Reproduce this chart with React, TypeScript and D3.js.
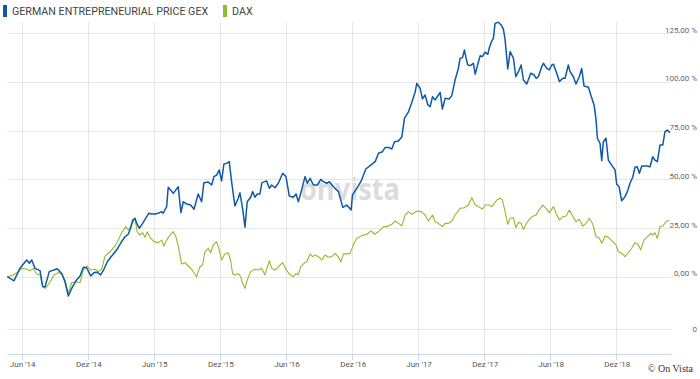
import React from "react";
import * as d3 from "d3";

// ---- data (decimal year, % change) ----
const gexDates = [
  2014.305, 2014.356, 2014.401, 2014.452, 2014.472, 2014.49, 2014.515, 2014.553, 2014.573, 2014.591,
  2014.623, 2014.684, 2014.717, 2014.742, 2014.767, 2014.793, 2014.825, 2014.856, 2014.881, 2014.906,
  2014.937, 2014.962, 2014.987, 2015.012, 2015.037, 2015.062, 2015.096, 2015.133, 2015.171, 2015.196,
  2015.221, 2015.239, 2015.255, 2015.272, 2015.285, 2015.305, 2015.33, 2015.361, 2015.378, 2015.398,
  2015.423, 2015.448, 2015.474, 2015.486, 2015.512, 2015.524, 2015.542, 2015.562, 2015.6, 2015.62,
  2015.638, 2015.663, 2015.694, 2015.719, 2015.751, 2015.777, 2015.794, 2015.827, 2015.853, 2015.87,
  2015.89, 2015.91, 2015.928, 2015.946, 2015.966, 2015.986, 2016.004, 2016.029, 2016.054, 2016.067,
  2016.087, 2016.105, 2016.122, 2016.148, 2016.163, 2016.18, 2016.198, 2016.218, 2016.233, 2016.269,
  2016.289, 2016.307, 2016.332, 2016.357, 2016.39, 2016.415, 2016.44, 2016.47, 2016.491, 2016.508,
  2016.526, 2016.559, 2016.576, 2016.597, 2016.622, 2016.652, 2016.678, 2016.697, 2016.723, 2016.743,
  2016.773, 2016.811, 2016.844, 2016.874, 2016.907, 2016.917, 2016.95, 2016.983, 2017.018, 2017.058,
  2017.089, 2017.114, 2017.144, 2017.164, 2017.194, 2017.215, 2017.235, 2017.265, 2017.291, 2017.311,
  2017.341, 2017.367, 2017.392, 2017.404, 2017.429, 2017.447, 2017.467, 2017.488, 2017.505, 2017.523,
  2017.543, 2017.568, 2017.581, 2017.598, 2017.619, 2017.649, 2017.669, 2017.694, 2017.719, 2017.732,
  2017.75, 2017.765, 2017.775, 2017.79, 2017.808, 2017.833, 2017.846, 2017.871, 2017.884, 2017.901,
  2017.921, 2017.942, 2017.952, 2017.972, 2017.984, 2017.997, 2018.022, 2018.043, 2018.06, 2018.073,
  2018.093, 2018.111, 2018.136, 2018.154, 2018.174, 2018.194, 2018.212, 2018.237, 2018.267, 2018.292,
  2018.308, 2018.325, 2018.351, 2018.363, 2018.389, 2018.408, 2018.426, 2018.439, 2018.464, 2018.484,
  2018.51, 2018.527, 2018.552, 2018.565, 2018.59, 2018.61, 2018.635, 2018.653, 2018.671, 2018.704,
  2018.722, 2018.747, 2018.762, 2018.772, 2018.792, 2018.805, 2018.817, 2018.837, 2018.855, 2018.888,
  2018.906, 2018.918, 2018.936, 2018.956, 2018.981, 2018.999, 2019.019, 2019.04, 2019.057, 2019.074,
  2019.09, 2019.108, 2019.146, 2019.171, 2019.191, 2019.208, 2019.226, 2019.246, 2019.267, 2019.284,
  2019.301, 2019.322,
];
const gexValues = [
  0.0, -2.1, 4.3, 8.6, 6.9, 8.6, 4.3, 3.1, -5.1, -5.1,
  2.6, 4.1, 1.7, -2.6, -9.9, -6.0, -2.1, 0.4, 4.8, 4.6,
  0.4, 2.1, 2.3, 0.9, 3.8, 7.7, 10.6, 13.7, 18.0, 20.5,
  21.8, 24.9, 29.1, 30.0, 27.4, 24.9, 27.4, 30.8, 32.6, 32.2,
  32.2, 32.6, 33.4, 32.6, 36.0, 45.9, 44.5, 42.8, 46.2, 32.9,
  38.5, 37.3, 36.8, 34.6, 42.5, 38.5, 48.3, 48.6, 47.1, 51.4,
  52.2, 54.8, 49.2, 57.9, 58.2, 59.1, 48.8, 36.3, 40.3, 43.1,
  35.1, 25.4, 38.5, 40.8, 43.7, 40.8, 42.5, 42.5, 48.3, 49.2,
  45.4, 47.1, 45.7, 48.0, 53.1, 51.4, 41.4, 40.8, 42.5, 38.5,
  42.8, 51.4, 48.0, 50.5, 47.1, 47.1, 50.0, 48.8, 48.0, 48.8,
  46.2, 43.7, 35.6, 36.8, 34.3, 42.0, 45.4, 49.2, 55.3, 57.4,
  59.1, 63.4, 64.2, 66.3, 66.3, 65.6, 69.3, 69.7, 71.9, 81.4,
  84.7, 89.6, 95.0, 99.3, 96.8, 91.3, 93.3, 88.2, 87.3, 92.4,
  90.8, 93.3, 94.7, 86.1, 91.6, 91.3, 93.0, 101.0, 107.0, 112.2,
  112.5, 116.4, 113.0, 108.7, 108.4, 109.6, 104.0, 110.4, 113.5, 113.0,
  115.3, 114.2, 117.3, 121.1, 122.4, 130.1, 130.7, 129.3, 127.2, 121.6,
  106.7, 115.6, 112.2, 102.7, 105.3, 108.7, 101.0, 99.0, 104.5, 103.6,
  101.9, 102.7, 107.9, 109.6, 107.0, 106.2, 108.7, 109.1, 104.5, 100.2,
  101.9, 101.9, 108.7, 105.3, 102.7, 99.0, 102.7, 107.0, 97.9, 97.3,
  93.3, 88.2, 80.5, 71.1, 68.5, 59.6, 69.3, 71.1, 59.9, 56.5,
  54.8, 47.6, 46.2, 39.0, 41.1, 43.7, 48.0, 51.1, 56.2, 56.5,
  53.1, 56.9, 56.9, 56.5, 61.6, 59.9, 59.1, 67.6, 67.6, 74.5,
  75.3, 74.0,
];

const daxDates = [
  2014.305, 2014.351, 2014.389, 2014.414, 2014.452, 2014.477, 2014.502, 2014.523, 2014.553, 2014.573,
  2014.591, 2014.623, 2014.659, 2014.691, 2014.717, 2014.742, 2014.767, 2014.793, 2014.831, 2014.856,
  2014.881, 2014.911, 2014.937, 2014.969, 2014.994, 2015.02, 2015.045, 2015.083, 2015.121, 2015.146,
  2015.171, 2015.204, 2015.221, 2015.239, 2015.255, 2015.272, 2015.289, 2015.31, 2015.33, 2015.348,
  2015.365, 2015.386, 2015.416, 2015.448, 2015.474, 2015.491, 2015.512, 2015.537, 2015.562, 2015.582,
  2015.6, 2015.625, 2015.65, 2015.675, 2015.701, 2015.739, 2015.764, 2015.784, 2015.802, 2015.827,
  2015.845, 2015.865, 2015.89, 2015.91, 2015.928, 2015.953, 2015.978, 2015.996, 2016.012, 2016.029,
  2016.054, 2016.072, 2016.087, 2016.105, 2016.122, 2016.148, 2016.18, 2016.205, 2016.231, 2016.256,
  2016.289, 2016.307, 2016.332, 2016.357, 2016.39, 2016.415, 2016.44, 2016.47, 2016.491, 2016.508,
  2016.526, 2016.551, 2016.572, 2016.597, 2016.617, 2016.635, 2016.66, 2016.685, 2016.71, 2016.735,
  2016.761, 2016.786, 2016.811, 2016.829, 2016.849, 2016.874, 2016.9, 2016.925, 2016.95, 2016.988,
  2017.026, 2017.058, 2017.083, 2017.114, 2017.152, 2017.177, 2017.215, 2017.24, 2017.265, 2017.291,
  2017.316, 2017.341, 2017.367, 2017.404, 2017.437, 2017.467, 2017.492, 2017.523, 2017.543, 2017.568,
  2017.598, 2017.619, 2017.644, 2017.669, 2017.694, 2017.732, 2017.765, 2017.795, 2017.821, 2017.846,
  2017.871, 2017.901, 2017.921, 2017.952, 2017.972, 2017.992, 2018.01, 2018.035, 2018.052, 2018.073,
  2018.093, 2018.111, 2018.136, 2018.154, 2018.174, 2018.194, 2018.212, 2018.242, 2018.275, 2018.308,
  2018.333, 2018.358, 2018.383, 2018.408, 2018.439, 2018.459, 2018.484, 2018.51, 2018.535, 2018.56,
  2018.585, 2018.61, 2018.635, 2018.661, 2018.686, 2018.711, 2018.737, 2018.762, 2018.787, 2018.805,
  2018.83, 2018.855, 2018.888, 2018.913, 2018.931, 2018.956, 2018.981, 2019.006, 2019.032, 2019.057,
  2019.082, 2019.1, 2019.125, 2019.15, 2019.176, 2019.191, 2019.208, 2019.226, 2019.246, 2019.267,
  2019.292, 2019.317,
];
const daxValues = [
  0.0, 0.9, 2.6, 4.3, 3.8, 3.1, 4.3, 1.7, 0.9, -4.8,
  -6.0, -3.4, 0.9, 2.1, 1.4, -1.7, -8.5, -3.1, -2.6, -3.1,
  3.4, 5.5, 3.4, 3.8, 2.6, 3.8, 10.6, 12.8, 15.8, 18.8,
  22.6, 25.7, 24.0, 25.7, 27.7, 30.0, 23.1, 21.4, 22.6, 20.2,
  23.1, 20.2, 18.0, 17.5, 18.8, 15.8, 18.8, 21.4, 23.1, 20.5,
  15.8, 6.5, 7.2, 5.5, 3.8, 0.0, 5.1, 6.0, 12.8, 14.6,
  12.3, 16.3, 18.0, 13.7, 8.6, 11.7, 12.3, 8.6, 1.4, 0.9,
  1.7, 0.0, -3.4, -6.0, -1.7, 2.6, 3.8, 3.4, 4.3, 0.9,
  8.2, 4.3, 3.4, 5.1, 7.2, 3.8, 1.4, 0.0, 1.7, 0.9,
  5.1, 6.9, 7.7, 11.7, 10.3, 11.1, 10.3, 8.6, 11.1, 10.0,
  10.3, 12.0, 10.0, 7.7, 11.7, 11.7, 12.0, 16.6, 19.7, 21.1,
  21.8, 23.5, 21.8, 23.1, 25.7, 25.7, 26.9, 28.6, 27.4, 26.2,
  31.7, 33.4, 32.0, 33.7, 33.4, 31.7, 28.6, 31.7, 28.2, 27.4,
  25.7, 27.4, 27.4, 28.6, 31.7, 35.1, 35.4, 36.8, 40.6, 36.8,
  36.0, 34.8, 36.8, 36.8, 36.0, 37.7, 39.4, 40.3, 39.4, 33.4,
  26.9, 30.0, 30.3, 25.2, 27.9, 27.4, 24.3, 28.2, 30.8, 31.7,
  34.6, 36.8, 35.1, 32.9, 36.0, 32.6, 29.1, 30.8, 31.2, 34.3,
  31.2, 28.2, 29.5, 26.0, 27.4, 30.0, 27.1, 20.5, 19.7, 17.2,
  20.9, 20.2, 18.0, 16.3, 12.8, 12.0, 10.3, 12.3, 14.6, 17.5,
  16.3, 13.7, 18.8, 20.5, 22.3, 21.4, 22.6, 19.7, 25.7, 26.0,
  28.2, 29.1,
];

const seriesNames = ["GERMAN ENTREPRENEURIAL PRICE GEX", "DAX"];
const seriesColors = ["#0f5aa6", "#8fbc2c"];

const xTickDates = [
  "2014-06-01", "2014-12-01", "2015-06-01", "2015-12-01", "2016-06-01",
  "2016-12-01", "2017-06-01", "2017-12-01", "2018-06-01", "2018-12-01",
];
const xTickLabels = [
  "Jun '14", "Dez '14", "Jun '15", "Dez '15", "Jun '16",
  "Dez '16", "Jun '17", "Dez '17", "Jun '18", "Dez '18",
];
const yTicks = [0, 25, 50, 75, 100, 125];
const yTickLabels = ["0,00 %", "25,00 %", "50,00 %", "75,00 %", "100,00 %", "125,00 %"];

function decYear(y: number): Date {
  const yr = Math.floor(y);
  const s = Date.UTC(yr, 0, 1);
  const e = Date.UTC(yr + 1, 0, 1);
  return new Date(s + (y - yr) * (e - s));
}

const W = 700;
const H = 379;
const left = 7.3;
const right = 670;
const plotTop = 22;
const axisY = 354;
const bottomLineY = 329;
const gridRight = 671;

export default function App() {
  const x = d3
    .scaleUtc()
    .domain([decYear(gexDates[0]), decYear(gexDates[gexDates.length - 1])])
    .range([left, right]);
  const y = d3.scaleLinear().domain([0, 125]).range([276.7, 33.3]);

  const gex = gexDates.map((d, i) => ({ d: decYear(d), v: gexValues[i] }));
  const dax = daxDates.map((d, i) => ({ d: decYear(d), v: daxValues[i] }));
  const line = d3
    .line<{ d: Date; v: number }>()
    .x((p) => x(p.d))
    .y((p) => y(p.v));

  const tickXs = xTickDates.map((s) => x(new Date(s + "T00:00:00Z")));
  const font = "Roboto, 'Open Sans', sans-serif";

  return (
    <svg
      width={W}
      height={H}
      style={{ position: "absolute", left: 0, top: 0, background: "#fff" }}
    >
      <rect x={0} y={0} width={W} height={H} fill="#fff" />
      {/* watermark */}
      <text
        x={350}
        y={200}
        textAnchor="middle"
        fontFamily="'Open Sans', sans-serif"
        fontWeight={700}
        fontSize={31}
        fill="#dcdcdc"
        textLength={100}
        lengthAdjust="spacingAndGlyphs"
      >
        onvista
      </text>
      {/* horizontal grid */}
      {yTicks.map((t) => (
        <line
          key={"h" + t}
          x1={left}
          x2={gridRight}
          y1={Math.round(y(t)) + 0.5}
          y2={Math.round(y(t)) + 0.5}
          stroke="#e6e6e6"
        />
      ))}
      <line x1={left} x2={gridRight} y1={bottomLineY + 0.5} y2={bottomLineY + 0.5} stroke="#e6e6e6" />
      {/* vertical grid */}
      {tickXs.map((tx, i) => (
        <line
          key={"v" + i}
          x1={Math.round(tx) + 0.5}
          x2={Math.round(tx) + 0.5}
          y1={plotTop}
          y2={axisY}
          stroke="#e6e6e6"
        />
      ))}
      {/* x axis */}
      <line x1={left} x2={gridRight} y1={axisY + 0.5} y2={axisY + 0.5} stroke="#ccd6eb" />
      {tickXs.map((tx, i) => (
        <line
          key={"t" + i}
          x1={Math.round(tx) + 0.5}
          x2={Math.round(tx) + 0.5}
          y1={axisY}
          y2={axisY + 6}
          stroke="#ccd6eb"
        />
      ))}
      {tickXs.map((tx, i) => (
        <text
          key={"xl" + i}
          x={tx + 1}
          y={367}
          textAnchor="middle"
          fontFamily={font}
          fontSize={8}
          fill="#555"
        >
          {xTickLabels[i]}
        </text>
      ))}
      {/* y labels */}
      {yTicks.map((t, i) => (
        <text
          key={"yl" + t}
          x={697}
          y={y(t) - 0.5}
          textAnchor="end"
          fontFamily={font}
          fontSize={8}
          fill="#666"
        >
          {yTickLabels[i]}
        </text>
      ))}
      <text x={697} y={332} textAnchor="end" fontFamily={font} fontSize={8} fill="#666">
        0
      </text>
      {/* series */}
      <path d={line(dax) || ""} fill="none" stroke={seriesColors[1]} strokeWidth={1.1} strokeLinejoin="round" />
      <path d={line(gex) || ""} fill="none" stroke={seriesColors[0]} strokeWidth={1.5} strokeLinejoin="round" />
      {/* legend */}
      <rect x={3} y={5} width={4} height={12} fill={seriesColors[0]} />
      <text x={12} y={15} fontFamily={font} fontSize={10.7} fill="#444">
        {seriesNames[0]}
      </text>
      <rect x={223} y={5} width={4} height={12} fill={seriesColors[1]} />
      <text x={232} y={15} fontFamily={font} fontSize={10.7} fill="#444">
        {seriesNames[1]}
      </text>
      {/* credit */}
      <text x={693} y={372} textAnchor="end" fontFamily="'Liberation Serif', 'DejaVu Serif', serif" fontSize={10} fill="#333">
        © On Vista
      </text>
    </svg>
  );
}
